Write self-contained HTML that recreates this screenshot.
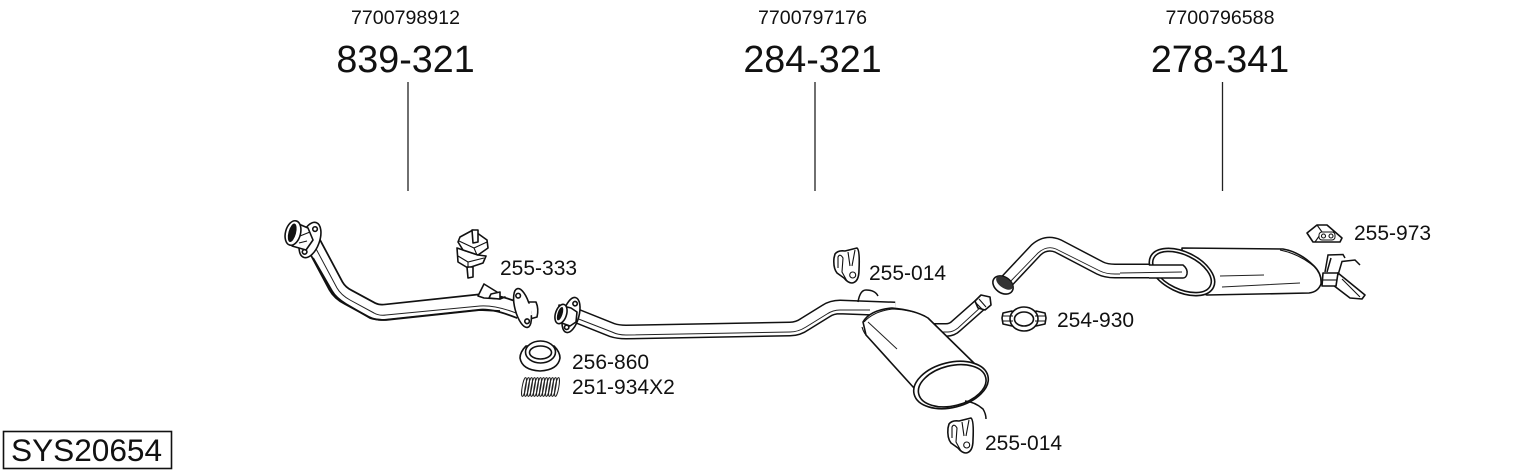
<!DOCTYPE html>
<html><head><meta charset="utf-8"><style>
html,body{margin:0;padding:0;background:#fff;width:1530px;height:474px;overflow:hidden}
svg{display:block}
text{font-family:"Liberation Sans",sans-serif;fill:#111}
.b{font-size:37.700px}.s{font-size:19.600px}.l{font-size:21px}
.o{fill:#fff;stroke:#111;stroke-width:1.600;stroke-linejoin:round}
.t{fill:none;stroke:#111;stroke-width:1.100}
</style></head><body>
<svg width="1530" height="474" viewBox="0 0 1530 474">
<text class="s" x="405.500" y="24" text-anchor="middle">7700798912</text>
<text class="s" x="812.500" y="24" text-anchor="middle">7700797176</text>
<text class="s" x="1220" y="24" text-anchor="middle">7700796588</text>
<text class="b" x="405.500" y="72" text-anchor="middle">839-321</text>
<text class="b" x="812.500" y="72" text-anchor="middle">284-321</text>
<text class="b" x="1220" y="72" text-anchor="middle">278-341</text>
<path d="M408 82V191M815 82V191M1222.500 82V191" stroke="#222" stroke-width="1.300" fill="none"/>

<!-- front pipe -->
<g fill="none" stroke-linejoin="round" stroke-linecap="butt">
<path d="M312 241L336 286Q340 293 348 297L372 310Q378 313 386 312L480 302Q495 301 520 311" stroke="#111" stroke-width="17"/>
<path d="M312 241L336 286Q340 293 348 297L372 310Q378 313 386 312L480 302Q495 301 520 311" stroke="#fff" stroke-width="13.500"/>
<path d="M314 245L337 288Q341 295 350 300L374 313Q379 316 386 315L480 306Q495 305 516 313" stroke="#222" stroke-width="1"/>
<path d="M313 258L332 291Q336 298 346 304L370 318Q376 320 386 320L480 310L500 311" stroke="#111" stroke-width="1.800"/>
</g>
<!-- front pipe inlet flange -->
<g transform="translate(310 240) rotate(20)">
<ellipse rx="9.500" ry="18.500" class="o" stroke-width="2.200"/>
<circle cx="1" cy="-12" r="2.300" class="o"/><circle cx="-1" cy="13" r="2.300" class="o"/>
</g>
<path d="M294 222L308 228L313 240L306 250L292 246Z" class="o"/>
<path d="M300 236L310 232M299 243L307 241" class="t"/>
<g transform="translate(293 233) rotate(15)"><ellipse rx="7.500" ry="12.500" class="o" stroke-width="1.800"/><ellipse cx="-.8" rx="3.800" ry="9.500" fill="#111"/></g>
<!-- outlet flange -->
<path d="M478 296L484 284L497 292L500 298L505 297L500 299L484 298Z" class="o"/>
<path d="M491 294L500 292L500 299L489 298Z" class="o"/>
<path d="M527 302L536 302Q539 309 537 317L530 319L526 317Z" class="o"/>
<g transform="translate(522.500 308) rotate(-15)">
<ellipse rx="7.500" ry="20" class="o" stroke-width="2.200"/>
<circle cx="-1" cy="-13" r="2.300" class="o"/><circle cx="1" cy="14" r="2.300" class="o"/>
</g>
<path d="M520 302L531 304L532 315L525 317Z" fill="#fff" stroke="none"/>
<!-- mount -->
<path d="M457 248L458 262L468 268L483 263L486 256L478 255L463 250Z" class="o"/>
<path d="M467 267L473 267L473 277L468 278Z" class="o"/>
<path d="M460 237L473 230L487 240L488 248L478 255L463 250L458 242Z" class="o"/>
<path d="M472 230L478 230L478 242L473 243Z" class="o"/>
<path d="M459 241L474 248L487 242M474 248L477 255M458 256L468 262L484 258M468 262V268" class="t"/>
<text class="l" x="500" y="275">255-333</text>

<!-- mid pipe -->
<g fill="none" stroke-linejoin="round">
<path d="M572 314L612 330Q618 332 626 332L790 329Q798 329 805 324L826 311Q832 307 840 307L895 309" stroke="#111" stroke-width="15"/>
<path d="M572 314L612 330Q618 332 626 332L790 329Q798 329 805 324L826 311Q832 307 840 307L895 309" stroke="#fff" stroke-width="12"/>
<path d="M576 318L612 332Q618 335 626 335L790 332Q798 332 806 327L827 314Q833 310 840 310L870 310" stroke="#222" stroke-width="1"/>
<path d="M858 302Q860 290 866 290Q875 290 878 296" stroke="#111" stroke-width="1.500"/>
</g>
<g transform="translate(571 315) rotate(15)">
<ellipse rx="8" ry="18" class="o" stroke-width="2.200"/>
<circle cx="1" cy="-12" r="2.200" class="o"/><circle cx="-1" cy="13" r="2.200" class="o"/>
</g>
<path d="M559 305L571 308L577 312L576 322L570 326L559 322Z" class="o"/>
<g transform="translate(561 314) rotate(18)"><ellipse rx="5.500" ry="10" class="o"/><ellipse cx="-1" rx="2.500" ry="7" fill="#111"/></g>

<!-- gasket -->
<path d="M526 346Q520 352 520 358Q522 370 540 371Q558 370 560 358Q560 352 554 346Z" class="o"/>
<ellipse cx="540.500" cy="352" rx="15" ry="11" class="o" stroke-width="1.800"/>
<ellipse cx="540.500" cy="352.500" rx="11" ry="6.500" class="o" stroke-width="1.800"/>
<text class="l" x="572" y="369">256-860</text>
<!-- spring -->
<g fill="none" stroke="#222" stroke-width="1">
<ellipse cx="524" cy="387" rx="1.800" ry="9.500" transform="rotate(10 524 387)"/>
<ellipse cx="527" cy="387" rx="1.800" ry="9.500" transform="rotate(10 527 387)"/>
<ellipse cx="530" cy="387" rx="1.800" ry="9.500" transform="rotate(10 530 387)"/>
<ellipse cx="533" cy="387" rx="1.800" ry="9.500" transform="rotate(10 533 387)"/>
<ellipse cx="536" cy="387" rx="1.800" ry="9.500" transform="rotate(10 536 387)"/>
<ellipse cx="539" cy="387" rx="1.800" ry="9.500" transform="rotate(10 539 387)"/>
<ellipse cx="542" cy="387" rx="1.800" ry="9.500" transform="rotate(10 542 387)"/>
<ellipse cx="545" cy="387" rx="1.800" ry="9.500" transform="rotate(10 545 387)"/>
<ellipse cx="548" cy="387" rx="1.800" ry="9.500" transform="rotate(10 548 387)"/>
<ellipse cx="551" cy="387" rx="1.800" ry="9.500" transform="rotate(10 551 387)"/>
<ellipse cx="554" cy="387" rx="1.800" ry="9.500" transform="rotate(10 554 387)"/>
<ellipse cx="557" cy="387" rx="1.800" ry="9.500" transform="rotate(10 557 387)"/>
</g>
<text class="l" x="572" y="394">251-934X2</text>

<!-- hangers -->
<path d="M835 254Q838 250 845 251L857 248Q860 250 859 270Q859 282 852 283Q848 283 844 278L837 273Q833 268 834 258Z" class="o"/>
<path d="M838 268L838 257Q840 253 843 258L842 272L847 281M848 252L850 266M855 250L852 266" class="t"/>
<circle cx="852.700" cy="275" r="3" class="t"/>
<text class="l" x="869" y="280">255-014</text>
<g transform="translate(114 170)">
<path d="M835 254Q838 250 845 251L857 248Q860 250 859 270Q859 282 852 283Q848 283 844 278L837 273Q833 268 834 258Z" class="o"/>
<path d="M838 268L838 257Q840 253 843 258L842 272L847 281M848 252L850 266M855 250L852 266" class="t"/>
<circle cx="852.700" cy="275" r="3" class="t"/>
</g>
<text class="l" x="985" y="450">255-014</text>

<!-- pipe behind muffler to flange -->
<g fill="none" stroke-linejoin="round">
<path d="M925 330L946 330Q952 330 956 326L982 303" stroke="#111" stroke-width="14"/>
<path d="M925 330L946 330Q952 330 956 326L982 303" stroke="#fff" stroke-width="11"/>
<path d="M935 332L948 332Q953 332 958 328L982 306" stroke="#222" stroke-width=".9"/>
</g>
<path d="M975 301L981 295L990 297L991 305L985 310L978 308Z" class="o"/>
<path d="M979 299L986 307M976 303L982 309" class="t"/>

<!-- mid muffler -->
<path d="M863 322Q870 310 892 308Q915 310 928 318L978 367L914 388L866 335Z" class="o" stroke-width="2"/>
<path d="M862 327Q864 334 868 337M864 322Q874 311 893 309Q912 310 925 316" class="t" stroke-width="1.800"/>
<path d="M868 322L897 349" stroke="#222" stroke-width="1"/>
<g transform="rotate(-14 951 385)">
<ellipse cx="951" cy="385" rx="38" ry="22.500" class="o" stroke-width="2"/>
<ellipse cx="952" cy="386" rx="34.500" ry="20" class="o"/>
</g>
<path d="M965 401Q975 402 983 409Q986 414 986 419" fill="none" stroke="#111" stroke-width="1.500"/>

<!-- clamp -->
<path d="M1003 313L1012 311L1014 314L1014 322L1012 326L1003 324L1002 318Z" class="o"/>
<path d="M1045 313L1036 311L1034 314L1034 322L1036 326L1045 324L1046 318Z" class="o"/>
<ellipse cx="1024" cy="319" rx="14" ry="12" class="o"/>
<ellipse cx="1024" cy="319" rx="9.500" ry="7" class="o"/>
<path d="M1003 316H1013M1003 321H1013M1035 316H1045M1035 321H1045" class="t"/>
<text class="l" x="1057" y="327">254-930</text>

<!-- rear pipe -->
<g fill="none" stroke-linejoin="round">
<path d="M1005 283L1036 250Q1046 241 1058 246L1100 268Q1106 271 1115 271L1186 271" stroke="#111" stroke-width="15"/>
<path d="M1005 283L1036 250Q1046 241 1058 246L1100 268Q1106 271 1115 271L1186 271" stroke="#fff" stroke-width="12"/>
<path d="M1008 284L1038 253Q1047 245 1056 249L1100 271Q1106 274 1115 274L1120 274" stroke="#222" stroke-width=".9"/>
</g>
<g transform="rotate(35 1003 285)"><ellipse cx="1003" cy="285" rx="11" ry="8" fill="#fff" stroke="#111" stroke-width="1.600"/><ellipse cx="1003" cy="282.500" rx="9.500" ry="5" fill="#333"/></g>

<!-- rear muffler -->
<path d="M1182 248L1283 249Q1300 252 1314 266Q1322 274 1321 284Q1318 292 1309 293L1207 295L1182 285Z" class="o" stroke-width="1.900"/>
<path d="M1220 276L1264 275M1222 287L1300 283" stroke="#222" stroke-width="1" fill="none"/>
<path d="M1280 250Q1300 254 1316 268" class="t"/>
<g transform="rotate(26 1182 272)">
<ellipse cx="1182" cy="272" rx="35" ry="20" class="o" stroke-width="2"/>
<ellipse cx="1182" cy="272" rx="31.500" ry="17" class="o"/>
</g>
<path d="M1149 265L1183 265Q1188 269 1187 274Q1186 278 1183 278L1149 278" fill="#fff" stroke="#111" stroke-width="1.500" stroke-linejoin="round"/>
<path d="M1120 273L1182 272" stroke="#222" stroke-width=".9" fill="none"/>
<!-- tail -->
<path d="M1338 273L1365 295L1362 299L1350 298L1333 285Z" class="o"/>
<path d="M1342 279L1360 297" class="t"/>
<path d="M1325 272L1328 255L1343 254.500L1345 258M1338 275L1342 261.500L1355 260L1360 265M1331 258L1327 272" fill="none" stroke="#111" stroke-width="1.500"/>
<path d="M1323 273H1338L1336 286H1322Z" class="o"/>
<path d="M1323 280H1337" class="t"/>

<!-- 255-973 -->
<path d="M1307 233L1317 225L1327 225L1342 238L1340 242L1313 242Z" class="o"/>
<path d="M1317 225L1322 232L1335 232M1322 232L1315 242" class="t"/>
<rect x="1319" y="232" width="16" height="8" rx="3" class="o" style="stroke-width:1"/>
<circle cx="1323.500" cy="236" r="2" class="t"/><circle cx="1331" cy="236" r="2" class="t"/>
<text class="l" x="1354" y="240">255-973</text>

<!-- code box -->
<rect x="3.500" y="431.500" width="168" height="37" fill="#fff" stroke="#111" stroke-width="1.600"/>
<text x="11" y="461" style="font-size:31.600px">SYS20654</text>
</svg>
</body></html>
